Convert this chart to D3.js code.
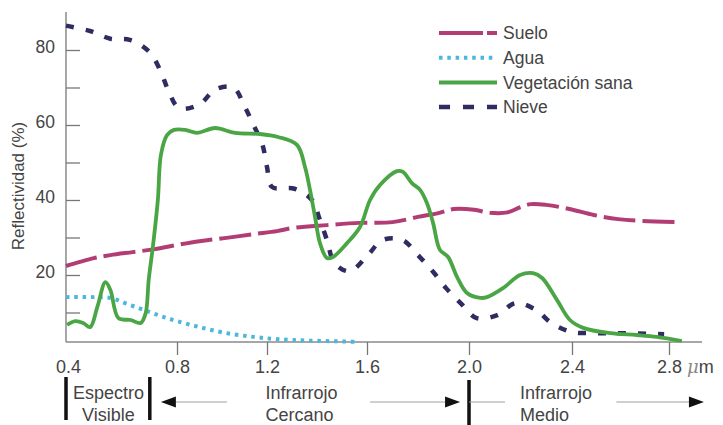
<!DOCTYPE html>
<html>
<head>
<meta charset="utf-8">
<script src="https://cdn.jsdelivr.net/npm/d3@7"></script>
<style>
  html, body { margin: 0; padding: 0; background: #fff; }
  svg { display: block; font-family: "Liberation Sans", Arial, sans-serif; }
</style>
</head>
<body>
<svg id="chart" width="723" height="425"></svg>
<script>
// Wavelength (µm) tick marks and their labels
const xTicks = [0.4, 0.8, 1.2, 1.6, 2.0, 2.4, 2.8];
const xTickLabels = ["0.4", "0.8", "1.2", "1.6", "2.0", "2.4", "2.8"];
const yTicks = [10, 20, 30, 40, 50, 60, 70, 80];
const yTickLabels = ["", "20", "", "40", "", "60", "", "80"];

// Spectral reflectance curves: [wavelength µm, reflectance %]
const suelo = [[0.40,22.4],[0.45,23.5],[0.50,24.5],[0.56,25.3],[0.64,26.1],[0.72,26.9],[0.80,28],
  [0.90,29],[1.02,29.9],[1.14,30.9],[1.24,31.7],[1.30,32.5],[1.44,33.3],[1.57,33.9],[1.70,34.1],
  [1.80,35.5],[1.88,36.5],[1.94,37.6],[2.02,37.4],[2.08,36.6],[2.15,36.7],[2.20,38.1],[2.24,38.9],
  [2.30,38.7],[2.39,37.6],[2.49,36],[2.59,34.9],[2.69,34.4],[2.84,34.1]];
const agua = [[0.40,14.1],[0.50,14.1],[0.56,13.9],[0.62,12.3],[0.68,10.7],[0.74,9.1],[0.80,7.7],
  [0.90,6.1],[1.02,4.5],[1.14,3.5],[1.24,2.9],[1.37,2.5],[1.56,2.2]];
const vegetacion = [[0.404,6.7],[0.433,7.7],[0.462,7.2],[0.487,6.1],[0.513,11.5],[0.542,18.1],
  [0.56,16],[0.589,8.5],[0.633,8],[0.669,7.2],[0.687,9.8],[0.698,18.7],[0.713,27.5],[0.731,40],
  [0.742,52],[0.764,57.3],[0.789,58.7],[0.836,58.7],[0.889,57.9],[0.969,59.2],[1.058,57.9],
  [1.169,57.6],[1.244,56.8],[1.32,54.7],[1.352,48.8],[1.372,42.7],[1.392,35.5],[1.412,28.5],
  [1.44,24.5],[1.464,24.8],[1.52,28.5],[1.572,32.8],[1.612,40],[1.651,44],[1.718,47.7],[1.741,47.5],
  [1.776,44.5],[1.808,42.7],[1.835,39.2],[1.859,33.9],[1.886,26.7],[1.918,24.8],[1.953,19.5],
  [1.992,15.2],[2.043,13.9],[2.07,14.1],[2.132,16.5],[2.198,20],[2.249,20.5],[2.284,19.2],
  [2.342,13.3],[2.392,8],[2.446,5.9],[2.557,4.5],[2.668,4],[2.75,3.5],[2.853,2.4]];
const nieve = [[0.40,86.5],[0.49,85],[0.56,83],[0.63,82.7],[0.70,79.5],[0.74,74.5],[0.77,69],
  [0.81,64.5],[0.90,65.5],[0.97,69.5],[1.05,70],[1.10,65],[1.14,60],[1.18,54.7],[1.20,48.8],
  [1.22,43.5],[1.31,43],[1.38,40],[1.41,35],[1.44,29.3],[1.47,23.2],[1.53,21],[1.60,25],[1.66,29.3],
  [1.74,29.3],[1.80,25.3],[1.86,20.8],[1.91,16.5],[1.97,12.3],[2.03,8.5],[2.11,9.3],[2.18,12.5],
  [2.26,10.7],[2.32,7.2],[2.40,4.8],[2.49,4.5],[2.58,4.5],[2.78,4.2]];

const seriesNames = ["Suelo", "Agua", "Vegetación sana", "Nieve"];

// Spectral regions below the axis
const regionLabels = [["Espectro", "Visible"], ["Infrarrojo", "Cercano"], ["Infrarrojo", "Medio"]];
const regionBounds = [0.4, 0.702, 2.0];

const svg = d3.select("#chart");

// The printed wavelength axis is not perfectly even, so a piecewise scale is used
const x = d3.scaleLinear().domain(xTicks).range([66, 177, 267, 367, 469, 572, 669]);
const y = d3.scaleLinear().domain([0, 80]).range([350, 50]);

const axisY = 342, axisX = 66;
const textColor = "#444";
const fs = 17.5;

// Axes lines
svg.append("line").attr("x1", axisX).attr("x2", axisX).attr("y1", 12).attr("y2", axisY)
  .attr("stroke", "#8a8a8a").attr("stroke-width", 1.5);
svg.append("line").attr("x1", axisX).attr("x2", 702).attr("y1", axisY).attr("y2", axisY)
  .attr("stroke", "#8a8a8a").attr("stroke-width", 1.5);

// Bottom axis
const gx = svg.append("g").attr("transform", `translate(0,${axisY})`)
  .call(d3.axisBottom(x).tickValues(xTicks).tickSize(13).tickPadding(5)
    .tickFormat((d, i) => xTickLabels[i]));
gx.select(".domain").remove();
gx.selectAll(".tick line").attr("stroke", "#777").attr("stroke-width", 1.3)
  .filter(d => d === 0.4).remove();
gx.selectAll(".tick text").attr("font-size", 18).attr("fill", textColor)
  .attr("font-family", "Liberation Sans, Arial, sans-serif");
gx.selectAll(".tick").filter(d => d === 0.4).select("text").attr("dx", 2);

// Unit after the last tick label
const unit = svg.append("text").attr("x", x(2.8) + 18).attr("y", axisY + 31)
  .attr("font-size", 18).attr("fill", textColor);
unit.append("tspan").text("μ").attr("font-family", "DejaVu Serif, serif")
  .attr("font-style", "italic").attr("font-weight", "normal").attr("fill", "#888");
unit.append("tspan").text("m");

// Left axis (ticks point into the plot)
const gy = svg.append("g").attr("transform", `translate(${axisX},0)`)
  .call(d3.axisLeft(y).tickValues(yTicks).tickSizeInner(-14).tickSizeOuter(0).tickPadding(11)
    .tickFormat((d, i) => yTickLabels[i]));
gy.select(".domain").remove();
gy.selectAll(".tick line").attr("stroke", "#777").attr("stroke-width", 1.3);
gy.selectAll(".tick text").attr("font-size", fs).attr("fill", textColor).attr("dy", "0.12em")
  .attr("font-family", "Liberation Sans, Arial, sans-serif");

svg.append("text").attr("transform", "translate(24,186) rotate(-90)")
  .attr("text-anchor", "middle").attr("font-size", 17).attr("fill", textColor)
  .text("Reflectividad (%)");

// Curves
const line = d3.line().x(d => x(d[0])).y(d => y(d[1])).curve(d3.curveCatmullRom.alpha(0.5));
const styles = [
  { data: suelo, color: "#b23c74", width: 4, dash: "32,7" },
  { data: agua, color: "#4bb7dc", width: 4, dash: "3.5,4.8" },
  { data: vegetacion, color: "#4aa645", width: 3.8, dash: null },
  { data: nieve, color: "#2e2c60", width: 4.5, dash: "8,12" }
];
const order = [0, 1, 3, 2];
order.forEach(i => {
  const s = styles[i];
  svg.append("path").datum(s.data).attr("d", line).attr("fill", "none")
    .attr("stroke", s.color).attr("stroke-width", s.width)
    .attr("stroke-dasharray", s.dash).attr("stroke-linejoin", "round");
});

// Legend
const legendDash = ["44,4,10,200", "3.5,4.8", null, "11,13"];
const lg = svg.append("g");
seriesNames.forEach((name, i) => {
  const yy = 33 + i * 24.7;
  lg.append("line").attr("x1", 439).attr("x2", 497).attr("y1", yy).attr("y2", yy)
    .attr("stroke", styles[i].color).attr("stroke-width", i === 3 ? 4.5 : 4)
    .attr("stroke-dasharray", legendDash[i]);
  lg.append("text").attr("x", 503).attr("y", yy).attr("dy", "0.35em")
    .attr("font-size", fs).attr("fill", textColor).text(name);
});

// Spectral region annotations
const ann = svg.append("g");
const bars = [[regionBounds[0], 377, 420], [regionBounds[1], 377, 420], [regionBounds[2], 380, 425]];
bars.forEach(b => {
  ann.append("line").attr("x1", x(b[0])).attr("x2", x(b[0])).attr("y1", b[1]).attr("y2", b[2])
    .attr("stroke", "#111").attr("stroke-width", 3.5);
});

function arrow(from, to) {
  const x1 = x(from), x2 = x(to), yy = 402, dir = Math.sign(x2 - x1);
  ann.append("line").attr("x1", x1).attr("x2", x2 - dir * 12).attr("y1", yy).attr("y2", yy)
    .attr("stroke", "#a0a0a0").attr("stroke-width", 1);
  ann.append("path")
    .attr("d", `M${x2},${yy} L${x2 - dir * 15},${yy - 5.5} L${x2 - dir * 15},${yy + 5.5} Z`)
    .attr("fill", "#111");
}
arrow(1.022, 0.742);
arrow(1.612, 1.965);
arrow(2.583, 2.944);
ann.append("line").attr("x1", x(2.0)).attr("x2", x(2.14)).attr("y1", 402).attr("y2", 402)
  .attr("stroke", "#a0a0a0").attr("stroke-width", 1);

const labelPos = [
  { at: 0.553, anchor: "middle" },
  { at: 1.193, anchor: "start" },
  { at: 2.198, anchor: "start" }
];
regionLabels.forEach((lines, i) => {
  lines.forEach((t, j) => {
    ann.append("text").attr("x", x(labelPos[i].at)).attr("y", 399 + j * 22)
      .attr("text-anchor", labelPos[i].anchor).attr("font-size", 18).attr("fill", textColor)
      .text(t);
  });
});
</script>
</body>
</html>
